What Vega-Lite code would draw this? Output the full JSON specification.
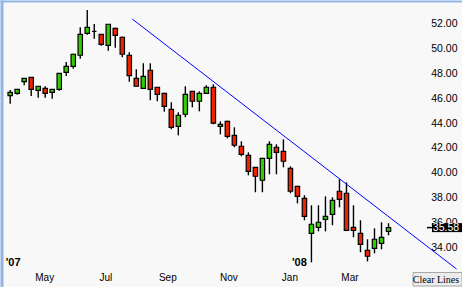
{
  "$schema": "https://vega.github.io/schema/vega-lite/v6.json",
  "width": 462,
  "height": 287,
  "autosize": {"type": "none"},
  "padding": 0,
  "background": "#f8f8f8",
  "datasets": {
    "candles": [
      {"date": "2007-03-26", "open": 46.22, "high": 46.68, "low": 45.57, "close": 46.49},
      {"date": "2007-04-02", "open": 46.41, "high": 46.75, "low": 46.30, "close": 46.73},
      {"date": "2007-04-09", "open": 47.35, "high": 47.65, "low": 47.06, "close": 47.62},
      {"date": "2007-04-16", "open": 47.70, "high": 47.72, "low": 46.19, "close": 46.73},
      {"date": "2007-04-23", "open": 46.65, "high": 47.00, "low": 46.06, "close": 46.98},
      {"date": "2007-04-30", "open": 46.81, "high": 46.98, "low": 46.06, "close": 46.41},
      {"date": "2007-05-07", "open": 46.49, "high": 46.75, "low": 45.98, "close": 46.73},
      {"date": "2007-05-14", "open": 46.73, "high": 48.05, "low": 46.62, "close": 48.02},
      {"date": "2007-05-21", "open": 48.10, "high": 48.94, "low": 47.81, "close": 48.59},
      {"date": "2007-05-28", "open": 48.59, "high": 49.60, "low": 48.40, "close": 49.56},
      {"date": "2007-06-04", "open": 49.48, "high": 51.73, "low": 49.20, "close": 51.17},
      {"date": "2007-06-11", "open": 51.25, "high": 53.13, "low": 51.14, "close": 51.73},
      {"date": "2007-06-18", "open": 51.41, "high": 52.00, "low": 50.81, "close": 51.41},
      {"date": "2007-06-25", "open": 51.17, "high": 51.20, "low": 50.25, "close": 50.36},
      {"date": "2007-07-02", "open": 50.28, "high": 52.00, "low": 49.85, "close": 51.98},
      {"date": "2007-07-09", "open": 51.65, "high": 51.70, "low": 50.09, "close": 51.09},
      {"date": "2007-07-16", "open": 50.93, "high": 51.00, "low": 49.31, "close": 49.56},
      {"date": "2007-07-23", "open": 49.48, "high": 49.72, "low": 47.35, "close": 47.83},
      {"date": "2007-07-30", "open": 47.62, "high": 48.35, "low": 46.95, "close": 46.98},
      {"date": "2007-08-06", "open": 46.81, "high": 48.83, "low": 46.78, "close": 47.78},
      {"date": "2007-08-13", "open": 48.27, "high": 48.83, "low": 45.85, "close": 46.73},
      {"date": "2007-08-20", "open": 46.90, "high": 46.92, "low": 45.77, "close": 46.33},
      {"date": "2007-08-27", "open": 46.41, "high": 46.45, "low": 44.93, "close": 45.36},
      {"date": "2007-09-03", "open": 45.12, "high": 45.69, "low": 43.51, "close": 43.67},
      {"date": "2007-09-10", "open": 43.75, "high": 44.88, "low": 43.02, "close": 44.64},
      {"date": "2007-09-17", "open": 44.72, "high": 46.98, "low": 44.48, "close": 46.33},
      {"date": "2007-09-24", "open": 46.57, "high": 46.60, "low": 45.28, "close": 45.77},
      {"date": "2007-10-01", "open": 45.77, "high": 46.57, "low": 44.96, "close": 46.41},
      {"date": "2007-10-08", "open": 46.41, "high": 47.06, "low": 46.38, "close": 46.90},
      {"date": "2007-10-15", "open": 46.90, "high": 47.14, "low": 43.91, "close": 44.00},
      {"date": "2007-10-22", "open": 43.75, "high": 44.15, "low": 43.10, "close": 43.91},
      {"date": "2007-10-29", "open": 44.15, "high": 44.20, "low": 42.78, "close": 42.94},
      {"date": "2007-11-05", "open": 43.02, "high": 43.67, "low": 42.06, "close": 42.22},
      {"date": "2007-11-12", "open": 42.14, "high": 42.54, "low": 41.33, "close": 41.49},
      {"date": "2007-11-19", "open": 41.41, "high": 41.65, "low": 39.80, "close": 40.12},
      {"date": "2007-11-26", "open": 40.44, "high": 40.45, "low": 38.43, "close": 39.72},
      {"date": "2007-12-03", "open": 39.40, "high": 41.20, "low": 38.43, "close": 41.17},
      {"date": "2007-12-10", "open": 41.17, "high": 42.54, "low": 39.88, "close": 42.30},
      {"date": "2007-12-17", "open": 42.06, "high": 42.30, "low": 39.88, "close": 41.65},
      {"date": "2007-12-24", "open": 41.73, "high": 42.70, "low": 40.44, "close": 40.93},
      {"date": "2007-12-31", "open": 40.36, "high": 40.52, "low": 38.35, "close": 38.51},
      {"date": "2008-01-07", "open": 38.91, "high": 38.95, "low": 37.54, "close": 38.10},
      {"date": "2008-01-14", "open": 37.94, "high": 38.19, "low": 36.17, "close": 36.49},
      {"date": "2008-01-21", "open": 35.12, "high": 37.38, "low": 32.78, "close": 35.85},
      {"date": "2008-01-28", "open": 35.60, "high": 37.38, "low": 35.28, "close": 36.01},
      {"date": "2008-02-04", "open": 36.25, "high": 38.10, "low": 35.28, "close": 36.49},
      {"date": "2008-02-11", "open": 36.65, "high": 38.02, "low": 35.77, "close": 37.78},
      {"date": "2008-02-18", "open": 38.51, "high": 39.48, "low": 37.22, "close": 37.86},
      {"date": "2008-02-25", "open": 38.35, "high": 39.23, "low": 35.30, "close": 35.36},
      {"date": "2008-03-03", "open": 35.60, "high": 37.38, "low": 34.80, "close": 35.36},
      {"date": "2008-03-10", "open": 35.12, "high": 36.17, "low": 33.59, "close": 34.23},
      {"date": "2008-03-17", "open": 33.75, "high": 34.64, "low": 32.86, "close": 33.27},
      {"date": "2008-03-24", "open": 33.91, "high": 35.52, "low": 33.51, "close": 34.64},
      {"date": "2008-03-31", "open": 34.31, "high": 36.01, "low": 33.83, "close": 34.80},
      {"date": "2008-04-07", "open": 35.28, "high": 35.93, "low": 34.96, "close": 35.58}
    ],
    "trend": [
      {"date": "2007-07-26", "value": 52.40},
      {"date": "2008-06-14", "value": 32.24}
    ],
    "tag": [
      {"price": 35.58, "label": "35.58"}
    ],
    "button": [
      {"label": "Clear Lines"}
    ]
  },
  "layer": [
    {
      "data": {"name": "candles"},
      "mark": {"type": "rule", "color": "#000000", "strokeWidth": 1.4},
      "encoding": {
        "x": {
          "field": "date", "type": "temporal",
          "scale": {"type": "utc", "domain": [1174419648000, 1213438752000], "nice": false},
          "axis": {
            "orient": "bottom",
            "values": [1177977600000, 1183248000000, 1188604800000, 1193875200000, 1199145600000, 1204329600000],
            "format": "%b", "offset": -10, "labelPadding": 0, "ticks": false, "tickSize": 0,
            "domain": false, "grid": false, "title": null, "labelBaseline": "middle", "labelOffset": -2,
            "labelFontSize": 10, "labelColor": "#000000", "labelFont": "Liberation Sans",
            "labelAlign": "center", "labelFlush": false, "labelOverlap": false, "labelBound": false
          }
        },
        "y": {
          "field": "low", "type": "quantitative",
          "scale": {"domain": [30.79, 53.935], "nice": false, "zero": false},
          "axis": {
            "orient": "right",
            "values": [34, 36, 38, 40, 42, 44, 46, 48, 50, 52],
            "format": ".2f", "offset": -5, "labelPadding": 0, "ticks": false, "tickSize": 0,
            "domain": false, "grid": false, "title": null, "labelAlign": "right", "labelBaseline": "middle",
            "labelFontSize": 10.5, "labelColor": "#000000", "labelFont": "Liberation Sans",
            "labelFlush": false, "labelOverlap": false, "labelBound": false
          }
        },
        "y2": {"field": "high"}
      }
    },
    {
      "data": {"name": "candles"},
      "mark": {"type": "bar", "width": 4.4, "stroke": "#000000", "strokeWidth": 1.2},
      "encoding": {
        "x": {
          "field": "date", "type": "temporal",
          "scale": {"type": "utc", "domain": [1174419648000, 1213438752000], "nice": false},
          "axis": {
            "orient": "bottom",
            "values": [1174440000000, 1199145600000],
            "format": "'%y", "offset": -25, "labelPadding": 0, "ticks": false, "tickSize": 0,
            "domain": false, "grid": false, "title": null, "labelBaseline": "middle",
            "labelFontSize": 11, "labelFontWeight": "bold", "labelColor": "#000000", "labelFont": "Liberation Sans",
            "labelAlign": "left", "labelFlush": false, "labelOverlap": false, "labelBound": false
          }
        },
        "y": {
          "field": "open", "type": "quantitative",
          "scale": {"domain": [30.79, 53.935], "nice": false, "zero": false},
          "axis": {
            "orient": "left", "domain": true, "domainColor": "#8fb5e6", "domainWidth": 3, "offset": -1.5,
            "labels": false, "ticks": false, "grid": false, "title": null
          }
        },
        "y2": {"field": "close"},
        "fill": {"condition": {"test": "datum.close > datum.open", "value": "#33cc00"}, "value": "#ee2200"}
      }
    },
    {
      "data": {"name": "trend"},
      "mark": {"type": "line", "color": "#0000ff", "strokeWidth": 1},
      "encoding": {
        "x": {
          "field": "date", "type": "temporal",
          "scale": {"type": "utc", "domain": [1174419648000, 1213438752000], "nice": false},
          "axis": {
            "orient": "top", "domain": true, "domainColor": "#8fb5e6", "domainWidth": 2, "offset": -1,
            "labels": false, "ticks": false, "grid": false, "title": null
          }
        },
        "y": {
          "field": "value", "type": "quantitative",
          "scale": {"domain": [30.79, 53.935], "nice": false, "zero": false},
          "axis": null
        }
      }
    },
    {
      "data": {"name": "tag"},
      "mark": {"type": "rule", "color": "#000000", "strokeWidth": 1.5},
      "encoding": {
        "x": {"value": 427},
        "x2": {"value": 433},
        "y": {"field": "price", "type": "quantitative", "scale": {"domain": [30.79, 53.935], "nice": false, "zero": false}, "axis": null}
      }
    },
    {
      "data": {"name": "tag"},
      "mark": {"type": "rect", "color": "#000000", "height": 9},
      "encoding": {
        "x": {"value": 432},
        "x2": {"value": 462},
        "y": {"field": "price", "type": "quantitative", "scale": {"domain": [30.79, 53.935], "nice": false, "zero": false}, "axis": null}
      }
    },
    {
      "data": {"name": "tag"},
      "mark": {"type": "text", "color": "#ffffff", "fontSize": 10.5, "font": "Liberation Sans", "align": "center", "baseline": "middle"},
      "encoding": {
        "x": {"value": 446},
        "y": {"field": "price", "type": "quantitative", "scale": {"domain": [30.79, 53.935], "nice": false, "zero": false}, "axis": null},
        "text": {"field": "label"}
      }
    },
    {
      "data": {"name": "button"},
      "mark": {"type": "rect", "fill": "#ececec", "stroke": "#a8a8a8", "strokeWidth": 1},
      "encoding": {
        "x": {"value": 413},
        "x2": {"value": 462},
        "y": {"value": 272.5},
        "y2": {"value": 286}
      }
    },
    {
      "data": {"name": "button"},
      "mark": {"type": "text", "color": "#000000", "fontSize": 10, "font": "Liberation Sans Narrow", "align": "center", "baseline": "middle"},
      "encoding": {
        "x": {"value": 436},
        "y": {"value": 279.5},
        "text": {"field": "label"}
      }
    }
  ],
  "resolve": {"axis": {"x": "independent", "y": "independent"}},
  "config": {"view": {"stroke": null}, "font": "Liberation Sans"}
}
